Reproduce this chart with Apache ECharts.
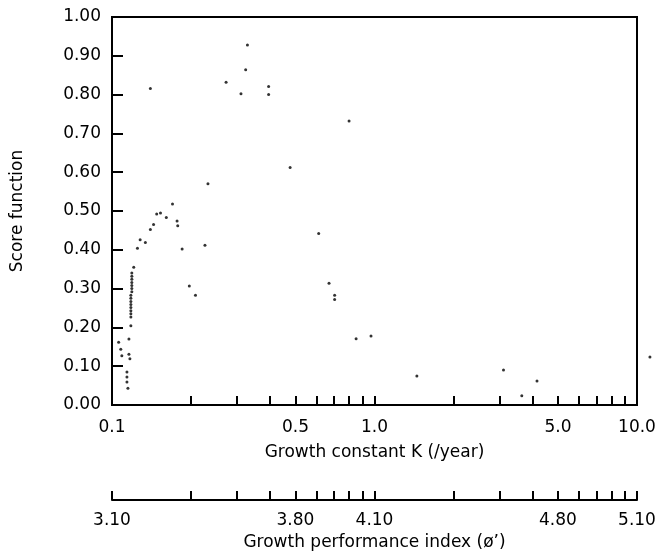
<!DOCTYPE html>
<html>
<head>
<meta charset="utf-8">
<script src="https://cdn.jsdelivr.net/npm/echarts@6/dist/echarts.min.js"></script>
<style>
html,body{margin:0;padding:0;background:#fff;}
#chart{width:665px;height:552px;}
</style>
</head>
<body>
<div id="chart"></div>
<script>
// Growth constant K (/year) of each point
const kValues = [
  0.140, 0.328, 0.323, 0.272, 0.310, 0.395, 0.395, 0.232, 0.800, 0.477,
  0.170, 0.148, 0.153, 0.161, 0.177, 0.178, 0.144, 0.140, 0.128, 0.134,
  0.125, 0.185, 0.226, 0.121,
  0.119, 0.119, 0.119, 0.119, 0.119, 0.119, 0.119,
  0.118, 0.118, 0.118, 0.118, 0.118, 0.118, 0.118, 0.118,
  0.118, 0.116, 0.106, 0.108, 0.109, 0.116, 0.117,
  0.114, 0.114, 0.114, 0.115,
  0.197, 0.208, 0.613, 0.671, 0.705, 0.705, 0.851, 0.970,
  1.45, 3.10, 4.16, 3.64, 11.2
];
// Score function of each point
const scoreValues = [
  0.816, 0.928, 0.864, 0.832, 0.802, 0.821, 0.800, 0.570, 0.732, 0.612,
  0.518, 0.492, 0.495, 0.483, 0.474, 0.462, 0.465, 0.452, 0.426, 0.419,
  0.404, 0.402, 0.412, 0.355,
  0.340, 0.332, 0.324, 0.316, 0.308, 0.300, 0.292,
  0.283, 0.275, 0.267, 0.259, 0.251, 0.243, 0.235, 0.227,
  0.204, 0.170, 0.162, 0.144, 0.127, 0.131, 0.119,
  0.085, 0.072, 0.059, 0.043,
  0.307, 0.283, 0.442, 0.314, 0.283, 0.272, 0.171, 0.178,
  0.075, 0.090, 0.062, 0.024, 0.124
];
// Tick positions and labels
const kLabelValues = [0.1, 0.5, 1, 5, 10];
const kTickValues = [0.2, 0.3, 0.4, 0.5, 0.6, 0.7, 0.8, 0.9, 1, 2, 3, 4, 5, 6, 7, 8, 9];
const phiTickValues = [0.1, 0.2, 0.3, 0.4, 0.5, 0.6, 0.7, 0.8, 0.9, 1, 2, 3, 4, 5, 6, 7, 8, 9, 10];
const phiOffset = 4.10; // phi' = log10(K) + 4.10
const scoreTicks = [0, 0.1, 0.2, 0.3, 0.4, 0.5, 0.6, 0.7, 0.8, 0.9, 1.0];

const points = kValues.map((k, i) => [k, scoreValues[i]]);
const FONT = 'DejaVu Sans';

const chart = echarts.init(document.getElementById('chart'), null, {renderer: 'canvas'});
chart.setOption({
  backgroundColor: '#fff',
  animation: false,
  grid: {
    left: 112, right: 28, top: 17, bottom: 147,
    outerBoundsMode: 'none', containLabel: false,
    show: true, borderColor: '#000', borderWidth: 2, backgroundColor: 'transparent'
  },
  xAxis: [
    {
      type: 'log', logBase: 10, min: 0.1, max: 10, position: 'bottom',
      name: 'Growth constant K (/year)', nameLocation: 'middle', nameGap: 39,
      nameTextStyle: {fontFamily: FONT, fontSize: 17, color: '#000'},
      axisLine: {show: true, lineStyle: {color: '#000', width: 2}},
      axisTick: {show: true, inside: true, length: 9, lineStyle: {color: '#000', width: 2}, customValues: kTickValues},
      axisLabel: {
        show: true, margin: 14, fontFamily: FONT, fontSize: 17, color: '#000',
        customValues: kLabelValues,
        formatter: v => (v === 0.1 ? '0.1' : Number(v).toFixed(1))
      },
      splitLine: {show: false}, minorTick: {show: false}, minorSplitLine: {show: false}
    },
    {
      type: 'log', logBase: 10, min: 0.1, max: 10, position: 'bottom', offset: 95,
      name: 'Growth performance index (ø’)', nameLocation: 'middle', nameGap: 34,
      nameTextStyle: {fontFamily: FONT, fontSize: 17, color: '#000'},
      axisLine: {show: true, lineStyle: {color: '#000', width: 2}},
      axisTick: {show: true, inside: true, length: 9, lineStyle: {color: '#000', width: 2}, customValues: phiTickValues},
      axisLabel: {
        show: true, margin: 12, fontFamily: FONT, fontSize: 17, color: '#000',
        customValues: kLabelValues,
        formatter: v => (Math.log10(v) + phiOffset).toFixed(2)
      },
      splitLine: {show: false}
    }
  ],
  yAxis: {
    type: 'value', min: 0, max: 1, interval: 0.1,
    name: 'Score function', nameLocation: 'middle', nameGap: 86,
    nameTextStyle: {fontFamily: FONT, fontSize: 17, color: '#000'},
    axisLine: {show: true, lineStyle: {color: '#000', width: 2}},
    axisTick: {show: true, inside: true, length: 11, lineStyle: {color: '#000', width: 2}, customValues: scoreTicks},
    axisLabel: {show: true, margin: 11, fontFamily: FONT, fontSize: 17, color: '#000',
      formatter: v => Number(v).toFixed(2)},
    splitLine: {show: false}
  },
  series: [{
    type: 'scatter',
    xAxisIndex: 0, yAxisIndex: 0,
    data: points,
    symbol: 'circle', symbolSize: 3,
    itemStyle: {color: '#000'},
    clip: false
  }]
});
</script>
</body>
</html>
